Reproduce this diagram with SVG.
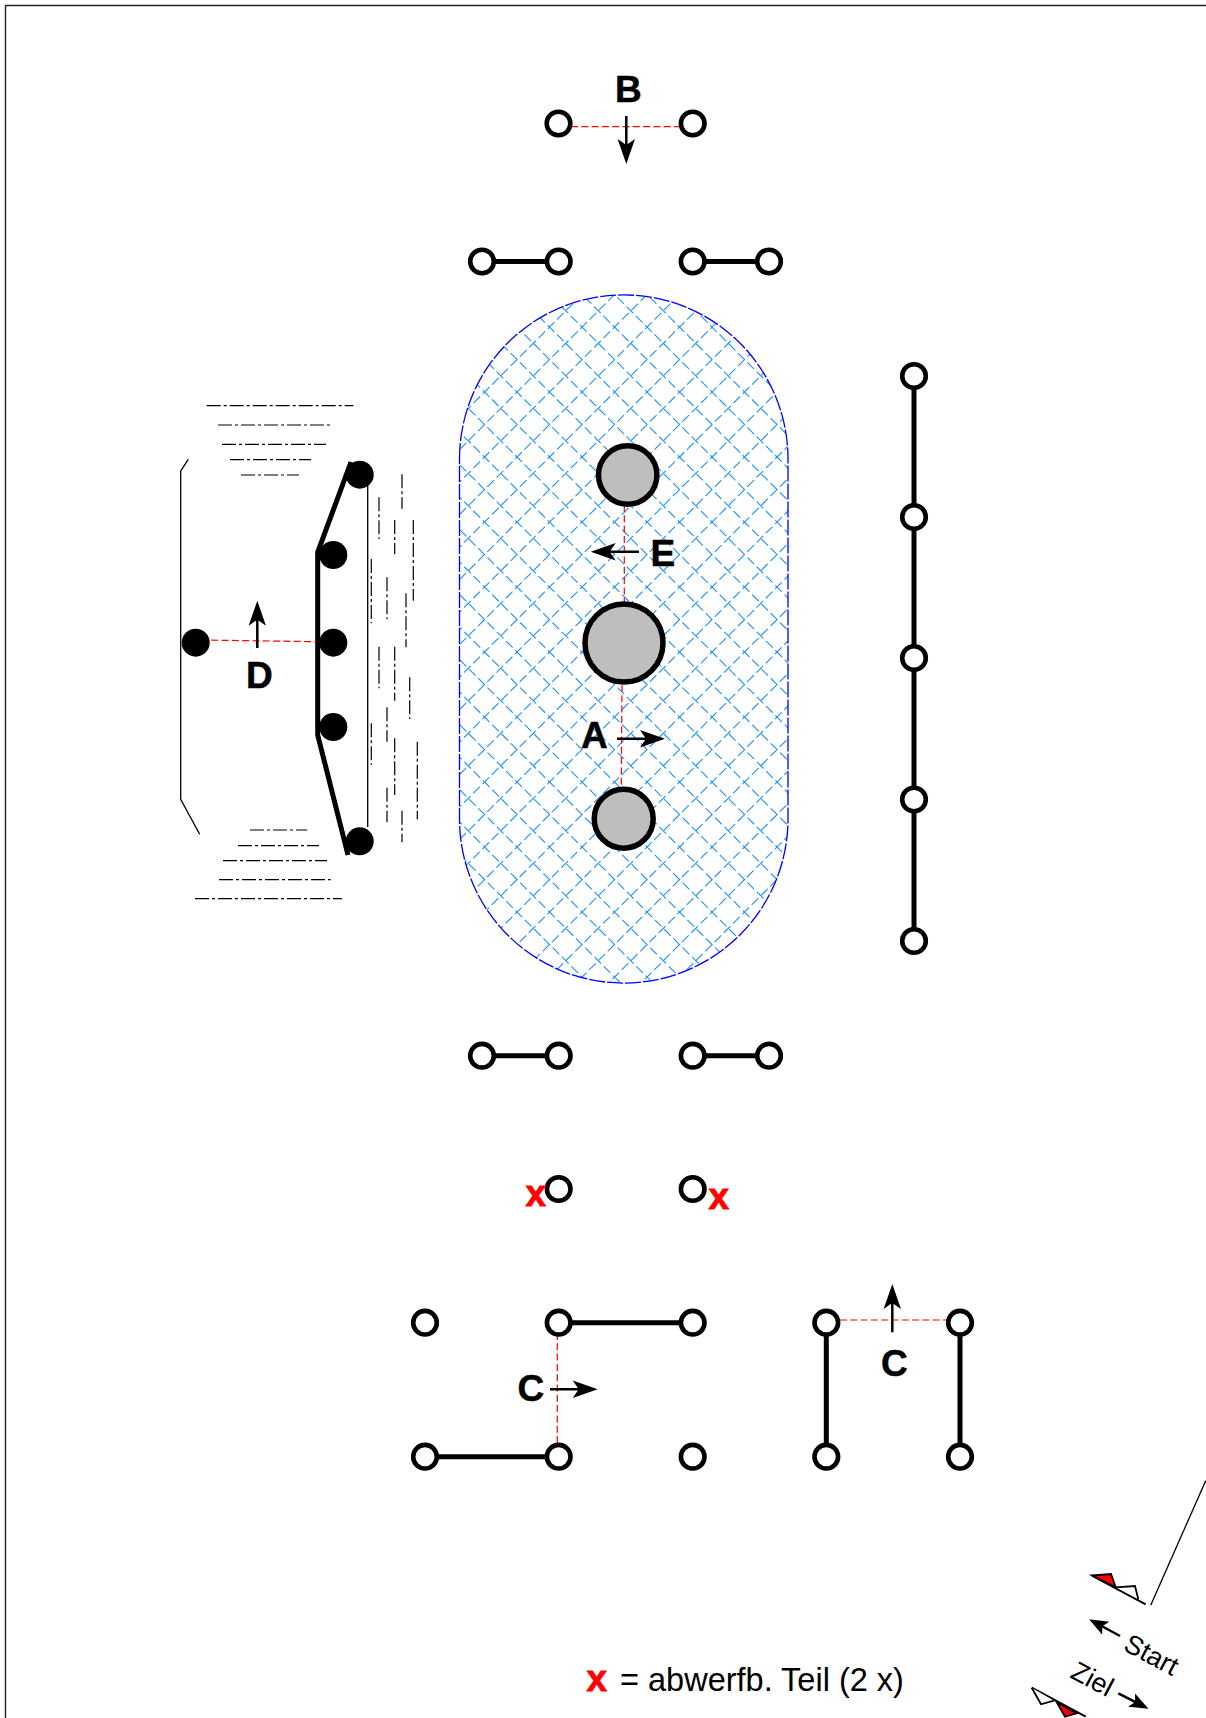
<svg xmlns="http://www.w3.org/2000/svg" width="1206" height="1718" viewBox="0 0 1206 1718">
<style>
.o{fill:#fff;stroke:#000;stroke-width:4.6}
.b{fill:#000}
.g{fill:#bebebe;stroke:#000;stroke-width:5.5}
.t{fill:none;stroke:#000;stroke-width:5}
.h{fill:none;stroke:#000;stroke-width:1.2;stroke-dasharray:14 3 3 3}
.r{fill:none;stroke:#f00;stroke-width:1.2;stroke-dasharray:7 3.3}
.a{fill:none;stroke:#000;stroke-width:2.5;marker-end:url(#ah)}
.s{fill:none;stroke:#000;stroke-width:2.5;marker-end:url(#as)}
.th{fill:none;stroke:#000;stroke-width:1.3}
.hatch{fill:none;stroke:#1e90ff;stroke-width:1.1;stroke-dasharray:9.4 3.74}
.l{font-family:"Liberation Sans",Arial,sans-serif;font-weight:bold;font-size:37px;fill:#000;stroke:#000;stroke-width:.5}
.x{font-family:"Liberation Sans",Arial,sans-serif;font-weight:bold;font-size:37px;fill:#f00;stroke:#f00;stroke-width:.8}
.n{font-family:"Liberation Sans",Arial,sans-serif;font-size:32.5px;fill:#000}
.m{font-family:"Liberation Sans",Arial,sans-serif;font-size:27px;fill:#000}
</style>
<defs>
<marker id="ah" markerUnits="userSpaceOnUse" markerWidth="30" markerHeight="20" refX="15" refY="10" orient="auto" overflow="visible"><path d="M0 1.3L25 10L0 18.7L6 10Z" fill="#000"/></marker>
<marker id="as" markerUnits="userSpaceOnUse" markerWidth="20" markerHeight="18" refX="10" refY="9" orient="auto" overflow="visible"><path d="M0 1.5L19 9L0 16.5L4 9Z" fill="#000"/></marker>
<clipPath id="fieldclip"><path d="M459.5 459A164.2 164 0 0 1 788 459V819A164.2 164 0 0 1 459.5 819Z"/></clipPath>
</defs>
<path id="border" d="M1206 5.5H5.5V1718" fill="none" stroke="#222" stroke-width="1.4"/>
<g id="field">
<g clip-path="url(#fieldclip)">
<path class="hatch" d="M461.6 285l-710 710M494.1 285l-710 710M526.6 285l-710 710M559.1 285l-710 710M591.6 285l-710 710M624.1 285l-710 710M656.6 285l-710 710M689.1 285l-710 710M721.6 285l-710 710M754.1 285l-710 710M786.6 285l-710 710M819.1 285l-710 710M851.6 285l-710 710M884.1 285l-710 710M916.6 285l-710 710M949.1 285l-710 710M981.6 285l-710 710M1014.1 285l-710 710M1046.6 285l-710 710M1079.1 285l-710 710M1111.6 285l-710 710M1144.1 285l-710 710M1176.6 285l-710 710M1209.1 285l-710 710M1241.6 285l-710 710M1274.1 285l-710 710M1306.6 285l-710 710M1339.1 285l-710 710M1371.6 285l-710 710M1404.1 285l-710 710M1436.6 285l-710 710M1469.1 285l-710 710"/>
<path class="hatch" d="M-204.5 288l710 710M-172 288l710 710M-139.5 288l710 710M-107 288l710 710M-74.5 288l710 710M-42 288l710 710M-9.5 288l710 710M23 288l710 710M55.5 288l710 710M88 288l710 710M120.5 288l710 710M153 288l710 710M185.5 288l710 710M218 288l710 710M250.5 288l710 710M283 288l710 710M315.5 288l710 710M348 288l710 710M380.5 288l710 710M413 288l710 710M445.5 288l710 710M478 288l710 710M510.5 288l710 710M543 288l710 710M575.5 288l710 710M608 288l710 710M640.5 288l710 710M673 288l710 710M705.5 288l710 710M738 288l710 710M770.5 288l710 710"/>
</g>
<path d="M459.5 459A164.2 164 0 0 1 788 459V819A164.2 164 0 0 1 459.5 819Z" fill="none" stroke="#00f" stroke-width="1.3" stroke-dasharray="16 2"/>
</g>
<g id="connectors">
<path class="t" d="M482 261.5H558.7M692.7 261.5H769M482 1055.7H558.7M692.7 1055.7H769M558.7 1322.7H692.7M425 1456.7H558.7M826.3 1322.7V1456.7M960 1322.7V1456.7M914 376V941"/>
<path class="t" d="M351 462L317.7 552.3V735L348 855"/>
<path class="th" d="M367.7 474V827"/>
<path class="th" d="M188.3 459.3L180.7 471V799.3L199.7 834.3"/>
<path class="r" d="M571 126.7H680M201 640L316 641.7M624.3 505V603M622 685L621.3 787M840 1320H947M557.3 1333V1443"/>
<path class="h" d="M206.7 405.7H353.3M218 425H330M222 444.3H326M230 459.7H311M241 475H299M250 830H307.3M238 845.7H319M223 860.7H327M219 879.7H330.7M195 898.7H342"/>
<path class="h" d="M402 474.3V508.7M379 497.3V539M394.7 520V554.3M413.3 520V600.7M371.3 559V623.3M387 577.3V619.3M406 593.3V647.3M379 646.7V688.3M394.7 646.7V700.7M409.7 677.3V719M387 707.3V741.7M371.3 723.3V765M394.7 738.3V795M417.3 741.7V819.3M387 787.7V822.3M402 810.7V842.3"/>
<path class="a" d="M626.3 116V154"/>
<path class="a" d="M639 551.7H600.7"/>
<path class="a" d="M617 738.7H655"/>
<path class="a" d="M257.3 648V610.7"/>
<path class="a" d="M550 1389.3H587.7"/>
<path class="a" d="M892.3 1332.3V1294"/>
<path class="s" d="M1120 1636L1097 1623.5"/>
<path class="s" d="M1118.3 1693.3L1140.5 1704.7"/>
</g>
<g id="top-pair"><circle class="o" cx="558.5" cy="123.5" r="11.8"/><circle class="o" cx="692.7" cy="123.5" r="11.8"/></g>
<g id="upper-row"><circle class="o" cx="482" cy="261.5" r="11.8"/><circle class="o" cx="558.7" cy="261.5" r="11.8"/><circle class="o" cx="692.7" cy="261.5" r="11.8"/><circle class="o" cx="769" cy="261.5" r="11.8"/></g>
<g id="lower-row"><circle class="o" cx="482" cy="1055.7" r="11.8"/><circle class="o" cx="558.7" cy="1055.7" r="11.8"/><circle class="o" cx="692.7" cy="1055.7" r="11.8"/><circle class="o" cx="769" cy="1055.7" r="11.8"/></g>
<g id="x-pair"><circle class="o" cx="558.7" cy="1189" r="11.8"/><circle class="o" cx="692.7" cy="1189" r="11.8"/></g>
<g id="right-column"><circle class="o" cx="914" cy="376" r="11.8"/><circle class="o" cx="914" cy="517" r="11.8"/><circle class="o" cx="914" cy="658" r="11.8"/><circle class="o" cx="914" cy="799.5" r="11.8"/><circle class="o" cx="914" cy="941" r="11.8"/></g>
<g id="bottom-grid"><circle class="o" cx="425" cy="1322.7" r="11.8"/><circle class="o" cx="558.7" cy="1322.7" r="11.8"/><circle class="o" cx="692.7" cy="1322.7" r="11.8"/><circle class="o" cx="425" cy="1456.7" r="11.8"/><circle class="o" cx="558.7" cy="1456.7" r="11.8"/><circle class="o" cx="692.7" cy="1456.7" r="11.8"/><circle class="o" cx="826.3" cy="1322.7" r="11.8"/><circle class="o" cx="960" cy="1322.7" r="11.8"/><circle class="o" cx="826.3" cy="1456.7" r="11.8"/><circle class="o" cx="960" cy="1456.7" r="11.8"/></g>
<g id="pylons"><circle class="g" cx="627.7" cy="475" r="29.2"/><circle class="g" cx="624" cy="643" r="39"/><circle class="g" cx="623.7" cy="818.7" r="29.5"/></g>
<g id="left-gate"><circle class="b" cx="195.7" cy="642.7" r="14"/><circle class="b" cx="333.3" cy="642.7" r="14"/><circle class="b" cx="333.3" cy="555" r="14"/><circle class="b" cx="333.3" cy="727" r="14"/><circle class="b" cx="359.7" cy="474.7" r="14"/><circle class="b" cx="359.7" cy="841.3" r="14"/></g>
<g id="start-finish">
<path class="th" d="M1205.7 1480.7L1150.7 1605.3"/>
<path d="M1092 1575.5L1145.7 1604.3M1031.7 1687.7L1085.7 1716.7" fill="none" stroke="#000" stroke-width="2"/>
<path d="M1092 1575.5L1111 1574L1115.7 1587.3Z" fill="#f00" stroke="#000" stroke-width="1.8"/>
<path d="M1115.7 1587.3L1135 1586L1138.3 1599.3" fill="#fff" stroke="#000" stroke-width="1.8"/>
<path d="M1031.7 1687.7L1041 1704.3L1054 1700.7" fill="#fff" stroke="#000" stroke-width="1.8"/>
<path d="M1056.7 1702.3L1065 1716.7L1076.7 1713.3Z" fill="#f00" stroke="#000" stroke-width="1.8"/>
</g>
<g id="labels">
<text class="l" x="615" y="102">B</text>
<text class="l" x="650.5" y="566">E</text>
<text class="l" x="581" y="748">A</text>
<text class="l" x="246" y="688">D</text>
<text class="l" x="517.5" y="1401">C</text>
<text class="l" x="881" y="1375.5">C</text>
<text class="x" x="525.5" y="1205.5">x</text>
<text class="x" x="708.5" y="1208.8">x</text>
<text class="x" x="586.5" y="1691">x</text>
<text class="n" x="620" y="1690.5">= abwerfb. Teil (2 x)</text>
<text class="m" transform="translate(1122 1649.5) rotate(28)">Start</text>
<text class="m" transform="translate(1069 1677) rotate(28)">Ziel</text>
</g>
</svg>
